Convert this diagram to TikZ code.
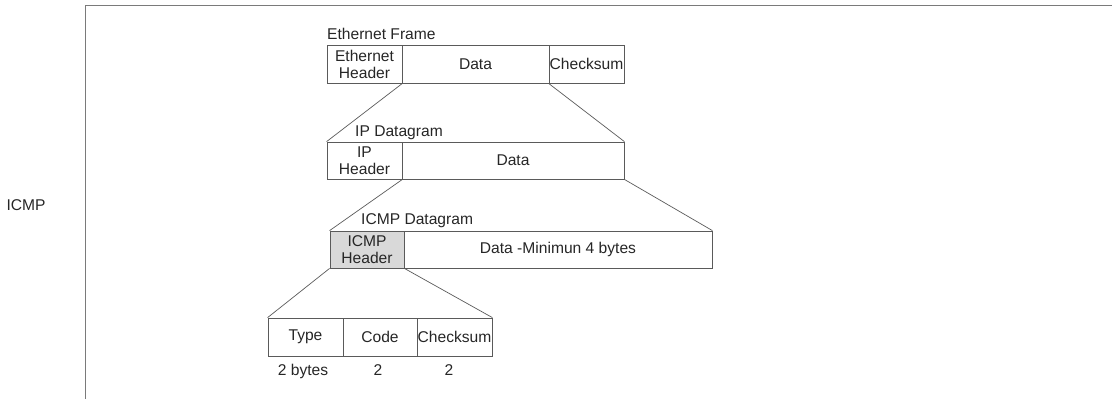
\documentclass[tikz,border=0pt]{standalone}
\usepackage{fontspec}
\setmainfont{Liberation Sans}
\definecolor{linegray}{HTML}{5A5A5A}
\definecolor{framegray}{HTML}{7A7A7A}
\definecolor{txt}{HTML}{262626}
\definecolor{hdrfill}{HTML}{D9D9D9}
\tikzset{
  cell/.style={draw=linegray, line width=0.8pt, inner sep=0pt, align=center,
    text=txt, font=\fontsize{15.6}{17}\selectfont},
  lbl/.style={inner sep=0pt, text=txt, font=\fontsize{15.6}{17}\selectfont},
  link/.style={draw=linegray, line width=0.7pt},
}
\begin{document}
\begin{tikzpicture}[x=1pt, y=-1pt]
  \useasboundingbox (0,0) rectangle (1112,399);
  % outer frame
  \draw[framegray, line width=1pt] (85,399) -- (85,5) -- (1112,5);
  \node[lbl, anchor=base] (side) at (26,210) {ICMP};

  % Ethernet frame
  \node[lbl, anchor=base west] (efl) at (327,39) {Ethernet Frame};
  \node[cell, minimum width=75pt, minimum height=38pt] (eh) at (364.5,64) {Ethernet\\Header};
  \node[cell, minimum width=147pt, minimum height=38pt] (ed) at (475.5,64) {Data};
  \node[cell, minimum width=75pt, minimum height=38pt] (ec) at (586.5,64) {Checksum};

  % IP datagram
  \node[lbl, anchor=base west] (ipl) at (355,136) {IP Datagram};
  \node[cell, minimum width=75pt, minimum height=37pt] (ih) at (364.5,160.5) {IP\\Header};
  \node[cell, minimum width=222pt, minimum height=37pt] (id) at (513,160.5) {Data};

  % ICMP datagram
  \node[lbl, anchor=base west] (icl) at (361,224) {ICMP Datagram};
  \node[cell, fill=hdrfill, minimum width=74pt, minimum height=37pt] (ch) at (367,249.5) {ICMP\\Header};
  \node[cell, minimum width=308pt, minimum height=37pt] (cd) at (558,249.5) {Data -Minimun 4 bytes};

  % ICMP header fields
  \node[cell, minimum width=75pt, minimum height=38pt] (ft) at (305.5,337) {Type};
  \node[cell, minimum width=74pt, minimum height=38pt] (fc) at (380,337) {Code};
  \node[cell, minimum width=75pt, minimum height=38pt] (fk) at (454.5,337) {Checksum};
  \node[lbl, anchor=base] (st) at (303,375) {2 bytes};
  \node[lbl, anchor=base] (sc) at (378,375) {2};
  \node[lbl, anchor=base] (sk) at (449,375) {2};

  % expansion lines
  \draw[link] (eh.south east) -- (ih.north west);
  \draw[link] (ec.south west) -- (id.north east);
  \draw[link] (ih.south east) -- (ch.north west);
  \draw[link] (id.south east) -- (cd.north east);
  \draw[link] (ch.south west) -- (ft.north west);
  \draw[link] (ch.south east) -- (fk.north east);
\end{tikzpicture}
\end{document}
